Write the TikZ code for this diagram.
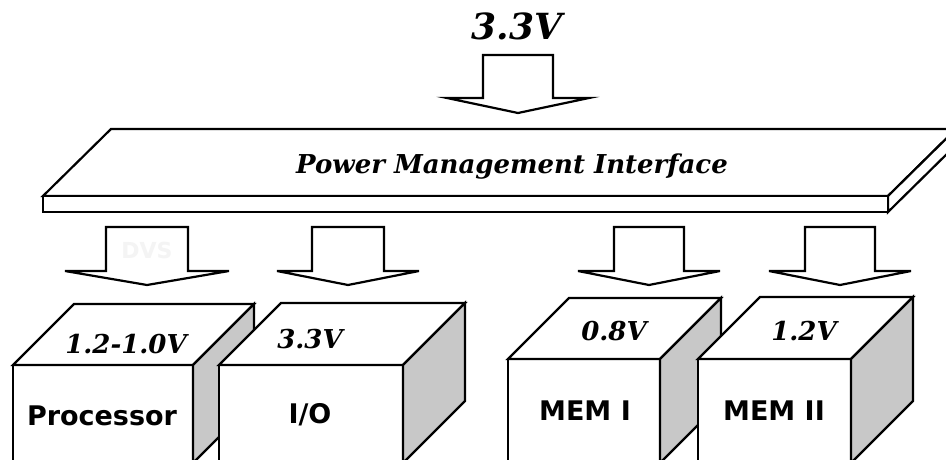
\documentclass[tikz,border=0pt]{standalone}
\usepackage{fontspec}
\usepackage{tikz}
\newfontfamily\pmserif{DejaVu Serif}
\newfontfamily\pmsans{DejaVu Sans}
\definecolor{sidegray}{HTML}{C8C8C8}
\definecolor{faintgray}{HTML}{F4F4F4}
\tikzset{
  edge/.style={draw=black, line width=2.2pt, line join=miter},
  frontface/.style={fill=white},
  topface/.style={edge, fill=white},
  sideface/.style={edge, fill=sidegray},
  blockarrow/.style={edge, fill=white},
  voltlabel/.style={font=\pmserif\bfseries\itshape\fontsize{26}{31}\selectfont,
                    anchor=base, inner sep=0pt},
  chiplabel/.style={font=\pmsans\bfseries\fontsize{27}{32}\selectfont,
                    anchor=base, inner sep=0pt},
}
% #1 name, #2 centre x, #3 top, #4 wing y, #5 tip y, #6 half shaft, #7 half wing
\newcommand{\bigarrow}[7]{%
  \filldraw[blockarrow] (#2-#6,#3) -- (#2+#6,#3) -- (#2+#6,#4) -- (#2+#7,#4)
    -- (#2,#5) -- (#2-#7,#4) -- (#2-#6,#4) -- cycle;
  \coordinate (#1) at (#2,#5);
}
% #1 name, #2 left, #3 right, #4 top, #5 depth
\newcommand{\chipbox}[5]{%
  \fill[frontface] (#2,#4) rectangle (#3,463);
  \draw[edge] (#2,463) -- (#2,#4) -- (#3,#4) -- (#3,463);
  \filldraw[topface] (#2,#4) -- (#2+#5,#4-#5) -- (#3+#5,#4-#5) -- (#3,#4) -- cycle;
  \filldraw[sideface] (#3,#4) -- (#3+#5,#4-#5) -- (#3+#5,463-#5) -- (#3,463) -- cycle;
  \coordinate (#1) at (#2,#4);
}

\begin{document}
\begin{tikzpicture}[x=1pt, y=-1pt]
  \useasboundingbox (0,0) rectangle (946,460);
  \clip (0,0) rectangle (946,460);

  % supply
  \node[voltlabel, font=\pmserif\bfseries\itshape\fontsize{36}{42}\selectfont] (vin) at (517,40) {3.3V};
  \bigarrow{ain}{518}{55}{98}{113}{35}{71}

  % power management slab
  \filldraw[topface] (43,196) -- (111,129) -- (956,129) -- (888,196) -- cycle;
  \filldraw[topface] (888,196) -- (956,129) -- (956,145) -- (888,212) -- cycle;
  \filldraw[topface] (43,196) rectangle (888,212);
  \node[voltlabel] (pmi) at (512,173) {Power Management Interface};

  % outputs
  \bigarrow{a1}{147}{227}{271}{285}{41}{82}
  \node[anchor=base, inner sep=0pt, text=faintgray, font=\pmsans\bfseries\fontsize{22}{26}\selectfont] (dvs) at (147,258) {DVS};
  \bigarrow{a2}{348}{227}{271}{285}{36}{71}
  \bigarrow{a3}{649}{227}{271}{285}{35}{71}
  \bigarrow{a4}{840}{227}{271}{285}{35}{71}

  % loads
  \chipbox{proc}{13}{193}{365}{61}
  \chipbox{io}{219}{403}{365}{62}
  \chipbox{mema}{508}{660}{359}{61}
  \chipbox{memb}{698}{851}{359}{62}

  \node[voltlabel] (procv) at (126,353) {1.2-1.0V};
  \node[voltlabel] (iov) at (310,348) {3.3V};
  \node[voltlabel] (memav) at (614,340) {0.8V};
  \node[voltlabel] (membv) at (804,340) {1.2V};

  \node[chiplabel] (procl) at (102,425) {Processor};
  \node[chiplabel] (iol) at (310,423) {I/O};
  \node[chiplabel] (memal) at (585,420) {MEM I};
  \node[chiplabel] (membl) at (774,420) {MEM II};
\end{tikzpicture}
\end{document}
